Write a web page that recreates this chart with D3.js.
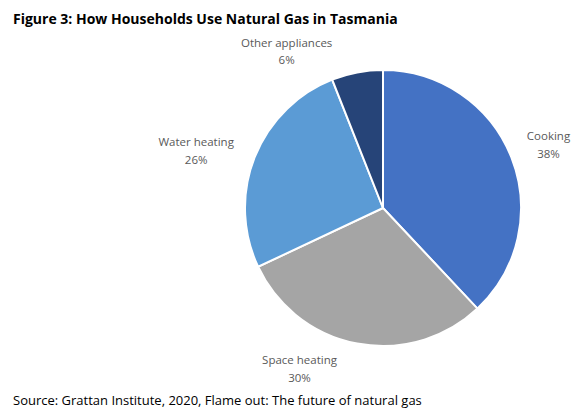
<!DOCTYPE html>
<html>
<head>
<meta charset="utf-8">
<script src="https://cdn.jsdelivr.net/npm/d3@7"></script>
<style>
  body { margin: 0; background: #fff; }
  svg { display: block; font-family: "Open Sans", sans-serif; }
</style>
</head>
<body>
<script>
var width = 586;
var height = 417;

var categories = ['Cooking', 'Space heating', 'Water heating', 'Other appliances'];
var shares = [38, 30, 26, 6];
var colours = ['#4472c4', '#a5a5a5', '#5b9bd5', '#264478'];

var svg = d3.select('body').append('svg')
              .attr('width', width)
              .attr('height', height);

svg.append('text')
    .attr('x', 13)
    .attr('y', 24)
    .style('font-weight', 700)
    .style('font-size', '14px')
    .attr('fill', '#000')
    .text('Figure 3: How Households Use Natural Gas in Tasmania');

svg.append('text')
    .attr('x', 13)
    .attr('y', 405)
    .style('font-size', '13px')
    .attr('fill', '#000')
    .text('Source: Grattan Institute, 2020, Flame out: The future of natural gas');

var radius = 138;
var g = svg.append('g')
            .attr('transform', 'translate(383,208)');

var pie = d3.pie().sort(null).value(function(d) { return d.value; });
var data = pie(categories.map(function(c, i) { return {name: c, value: shares[i]}; }));

var arc = d3.arc().innerRadius(0).outerRadius(radius);
var colour = d3.scaleOrdinal().domain(categories).range(colours);

g.selectAll('path')
    .data(data)
  .enter().append('path')
    .attr('d', arc)
    .attr('fill', function(d) { return colour(d.data.name); })
    .attr('stroke', '#fff')
    .attr('stroke-width', 2);

// label placement (excel "best fit" nudges): angle shift in degrees, radius
var labelFit = {
  'Cooking': {shift: 0, r: 178},
  'Space heating': {shift: 17, r: 179},
  'Water heating': {shift: -4, r: 196},
  'Other appliances': {shift: -20.4, r: 186}
};

var labels = g.selectAll('.label')
    .data(data)
  .enter().append('text')
    .attr('class', 'label')
    .attr('text-anchor', 'middle')
    .attr('fill', '#595959')
    .style('font-size', '11.5px')
    .attr('transform', function(d) {
      var fit = labelFit[d.data.name];
      var a = (d.startAngle + d.endAngle) / 2 + fit.shift * Math.PI / 180;
      return 'translate(' + (Math.sin(a) * fit.r) + ',' + (-Math.cos(a) * fit.r) + ')';
    });

labels.append('tspan')
    .attr('x', 0)
    .attr('dy', -2.4)
    .text(function(d) { return d.data.name; });

labels.append('tspan')
    .attr('x', 0)
    .attr('dy', 18)
    .text(function(d) { return d.data.value + '%'; });
</script>
</body>
</html>
